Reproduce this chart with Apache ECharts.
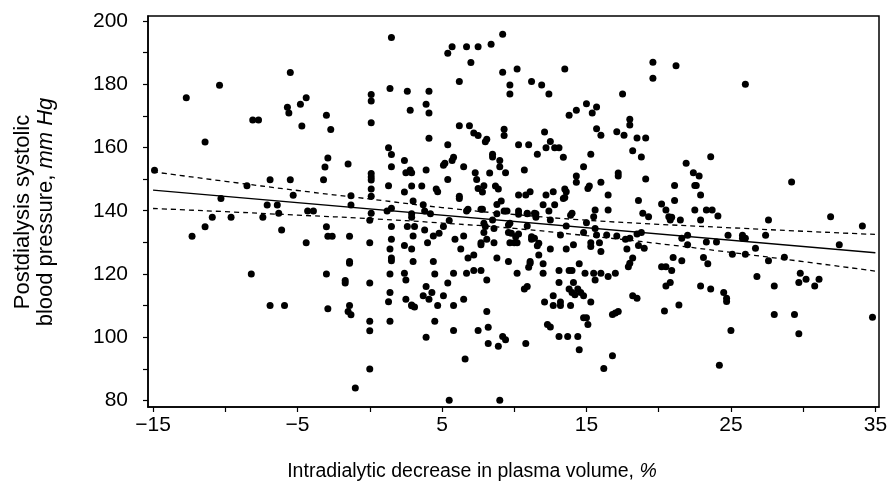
<!DOCTYPE html>
<html><head><meta charset="utf-8">
<script src="https://cdn.jsdelivr.net/npm/echarts@6/dist/echarts.min.js"></script>
<style>html,body{margin:0;padding:0;background:#fff}#c{width:891px;height:502px}</style>
</head><body><div id="c"></div>
<script>
// Intradialytic decrease in plasma volume (%) vs postdialysis systolic BP (mm Hg)
const pvDecrease = [
-12.7,-10.4,-5.5,-5.7,-5.6,-4.8,-4.4,-3.0,0.1,0.1,1.4,1.5,
2.6,4.1,2.8,3.9,4.1,5.4,5.7,6.7,7.5,8.4,9.2,7.0,6.2,9.2,10.2,9.7,9.7,11.2,11.9,12.4,13.5,17.5,15.0,14.3,15.7,15.4,13.8,
19.6,19.6,21.2,26.0,
-14.9,-11.4,-8.1,-7.7,-4.7,-2.7,0.1,1.3,1.5,1.5,1.3,-2.9,-3.1,-3.2,-1.5,0.1,0.1,0.1,0.1,0.1,0.1,-1.3,-1.3,-6.9,-5.5,-8.5,-5.3,-10.3,-7.1,-6.4,-6.3,-4.3,-3.9,1.2,1.5,
-12.3,-11.4,-10.9,-9.6,-7.4,-6.1,-4.4,-3.0,-2.9,-2.6,-1.4,0.0,0.0,1.5,1.5,1.4,1.5,1.5,1.4,1.4,1.3,-1.4,-1.4,-1.7,-1.7,0.0,-3.0,-8.2,-6.9,-5.9,-2.9,-1.4,-1.5,
-1.3,0.0,1.4,0.0,0.0,-1.0,
18.0,18.0,18.5,19.1,6.2,6.9,7.2,7.5,8.0,8.1,4.1,9.3,9.3,5.4,10.3,11.0,12.1,12.5,12.2,12.8,13.1,11.6,13.4,15.7,16.0,17.1,17.6,18.2,15.3,14.8,14.3,14.3,16.0,17.2,17.2,15.2,15.1,16.5,18.6,
2.4,2.5,2.8,2.9,3.9,2.9,3.6,2.4,3.0,3.7,3.8,2.9,5.1,5.2,5.7,5.8,6.5,5.4,4.6,4.7,6.2,6.2,7.3,7.4,8.3,8.5,8.5,9.0,9.0,9.4,7.5,7.8,7.9,8.7,8.9,10.7,10.3,10.8,11.1,12.2,12.7,12.0,12.8,13.5,13.6,13.4,13.5,9.1,8.8,6.8,6.7,7.7,7.8,9.5,9.3,10.3,10.9,11.4,12.4,14.0,15.6,16.5,
18.8,23.6,21.9,22.4,22.8,19.1,21.1,22.5,22.6,22.9,29.2,20.2,20.5,21.1,22.5,23.3,23.7,18.9,24.1,31.9,
4.2,8.8,10.3,10.9,11.5,11.5,12.5,13.9,15.5,2.6,3.1,2.9,3.8,5.1,5.5,4.4,4.8,7.9,8.0,8.5,8.6,7.9,9.6,9.7,9.6,9.8,10.1,10.3,10.9,11.2,11.4,13.2,13.6,14.8,15.0,15.6,15.7,16.4,17.1,17.7,18.0,18.5,
3.0,5.9,6.5,4.0,2.4,2.9,6.3,7.7,7.7,8.1,8.6,9.7,10.0,10.2,11.2,11.7,11.6,12.5,13.6,14.1,15.3,15.3,15.9,16.0,17.8,18.6,7.2,6.8,11.7,
3.0,4.4,8.8,9.6,11.1,11.1,11.0,12.0,14.5,18.2,18.0,17.9,2.4,2.5,4.5,5.8,6.7,7.2,7.7,8.1,10.2,12.0,13.1,13.8,14.0,14.9,15.5,16.0,15.6,16.5,17.0,5.4,13.1,14.1,
3.9,4.3,3.7,4.1,5.1,2.5,2.9,3.1,2.9,4.7,5.8,6.5,8.1,10.7,10.9,12.7,12.1,12.7,13.2,13.2,13.9,13.8,14.0,14.2,14.4,14.6,14.8,15.3,18.2,18.5,17.2,17.0,
4.5,3.9,5.8,6.6,7.5,8.2,8.2,8.9,9.2,9.4,10.8,12.3,12.5,13.1,13.7,14.4,14.5,14.8,15.0,15.1,16.2,16.8,16.8,5.5,9.0,
19.3,20.7,20.9,20.8,21.5,22.9,27.6,34.1,18.8,19.0,21.6,22.0,22.0,23.3,24.0,24.8,25.8,26.0,25.8,27.4,26.7,25.1,26.0,27.6,28.7,32.5,21.0,21.6,23.1,23.4,20.2,20.5,20.9,20.5,20.8,22.9,23.6,24.5,24.7,24.7,26.8,28.0,29.8,29.7,30.2,30.8,31.1,20.4,21.4,
28.0,29.4,34.8,25.0,29.7,24.2
];
const sbp = [
175.7,179.7,183.7,172.7,170.9,173.7,175.7,170.2,176.8,174.7,178.7,194.8,
177.8,177.8,171.8,173.7,170.9,189.8,191.9,191.9,191.9,192.7,195.8,186.9,180.9,183.8,184.8,179.8,176.9,180.9,179.8,176.9,184.8,176.9,173.8,171.8,172.8,170.9,170.2,
187.0,181.9,185.9,180.0,
152.8,161.7,168.7,168.7,166.8,165.7,167.8,159.9,157.8,153.9,147.9,156.7,153.8,149.8,154.8,151.8,150.7,149.7,146.9,144.6,139.2,144.7,141.8,149.8,149.8,147.9,144.9,143.9,141.8,141.8,139.2,139.9,139.9,139.9,140.8,
131.9,134.9,137.9,137.9,137.9,133.9,129.9,134.9,131.9,131.9,131.9,137.0,129.9,135.0,131.0,127.9,125.0,124.2,120.0,114.1,111.2,123.9,123.4,117.9,117.1,117.1,120.0,120.0,110.0,110.0,109.0,110.0,108.1,
107.1,105.0,105.0,102.0,89.9,83.9,
168.9,167.1,163.0,163.0,166.9,166.9,164.6,163.8,161.8,162.6,162.9,165.8,163.8,160.9,160.9,160.9,164.9,161.9,159.9,159.9,159.9,157.9,156.9,165.9,163.9,165.0,163.9,159.0,157.9,153.9,151.0,149.0,149.0,151.9,151.0,147.8,147.0,145.0,143.2,
155.9,152.0,152.9,152.0,152.9,147.8,147.8,145.9,143.1,141.9,139.9,139.0,154.4,155.0,155.9,156.9,153.9,149.9,146.9,146.0,144.6,143.9,152.0,149.9,151.9,157.9,157.0,155.9,153.9,152.0,147.0,145.9,147.9,147.8,146.9,152.9,145.0,145.0,146.0,145.0,146.0,141.9,141.9,146.9,146.0,143.9,144.2,143.1,142.0,140.5,139.9,140.5,140.5,139.9,139.9,139.9,139.2,139.2,139.9,139.2,140.2,140.2,
157.0,157.1,155.0,152.0,151.0,150.0,148.0,148.0,148.0,145.0,149.1,142.1,140.2,143.2,140.2,140.2,140.2,139.2,138.3,138.1,
139.0,139.0,138.9,139.0,139.0,137.9,137.1,138.6,138.1,135.0,135.0,137.9,133.9,135.0,136.9,132.0,132.9,136.0,135.0,137.1,134.4,133.1,135.5,136.0,133.1,132.9,131.8,132.6,135.2,131.8,131.3,132.3,135.2,133.1,136.2,134.4,132.3,132.3,132.0,131.0,131.3,132.6,
132.0,131.0,132.0,129.9,129.0,127.9,127.9,129.2,129.9,131.0,129.9,129.9,129.9,129.9,131.0,129.7,128.9,127.9,127.9,129.2,129.9,128.7,129.9,127.1,127.9,129.0,126.0,125.0,126.0,
123.9,123.9,125.0,123.9,123.9,123.4,122.1,123.2,123.2,125.0,123.4,122.3,120.2,118.1,120.0,120.2,120.2,121.1,121.1,118.1,120.2,120.2,121.1,121.1,121.1,120.2,120.2,120.2,118.1,119.2,120.2,117.1,117.3,117.3,
116.0,114.1,113.1,112.0,113.1,112.0,109.9,109.5,110.2,110.0,110.0,112.0,108.1,115.2,116.0,113.1,111.1,110.0,111.1,110.0,110.0,115.2,114.1,113.4,115.2,114.1,113.1,111.1,113.1,112.3,108.1,107.6,
105.0,100.0,102.1,93.1,102.1,103.1,98.0,97.1,100.2,99.2,98.0,104.0,103.2,100.2,100.2,100.2,96.0,106.1,106.1,104.0,90.1,94.1,107.2,80.0,80.0,
138.1,138.1,137.9,137.1,137.1,137.1,137.1,135.2,133.1,128.1,131.3,132.2,129.2,130.1,130.1,132.2,132.2,131.3,131.3,132.2,128.1,126.2,126.2,124.2,125.3,129.2,125.2,124.2,125.2,123.2,122.3,122.3,121.1,116.2,117.3,116.2,115.2,114.1,112.3,111.3,119.2,116.2,120.2,117.3,118.3,116.2,118.3,108.3,110.2,
107.2,107.2,106.3,102.1,101.1,91.1
];
// Fitted regression line and its confidence band
const fitX = [-15, 35];
const fitY = [146.5, 126.7];
const bandX = [-15, -10, -5, 0, 5, 10, 15, 20, 25, 30, 35];
const bandUpper = [152.3, 149.3, 146.4, 143.7, 141.0, 138.8, 137.0, 135.7, 134.6, 133.5, 132.5];
const bandLower = [140.7, 139.7, 138.6, 137.5, 136.1, 134.4, 132.1, 129.6, 126.8, 123.9, 120.9];
// Axis ticks
const xTicks = [-15, -10, -5, 0, 5, 10, 15, 20, 25, 30, 35];
const xTickLabels = [-15, -5, 5, 15, 25, 35];
const yTicks = [80, 90, 100, 110, 120, 130, 140, 150, 160, 170, 180, 190, 200];
const yTickLabels = [80, 100, 120, 140, 160, 180, 200];
const xTitle = 'Intradialytic decrease in plasma volume, ';
const yTitle1 = 'Postdialysis systolic';
const yTitle2 = 'blood pressure, ';

const FONT = '"Liberation Sans", Arial, sans-serif';
const zip = (a, b) => a.map((v, i) => [v, b[i]]);
const chart = echarts.init(document.getElementById('c'), null, {renderer: 'canvas'});
chart.setOption({
  animation: false,
  backgroundColor: '#fff',
  grid: {left: 148, top: 16, right: 12, bottom: 95, show: true, borderColor: '#000', borderWidth: 1.5, backgroundColor: 'transparent'},
  xAxis: {
    type: 'value', min: -15.35, max: 35.25,
    axisLine: {show: true, onZero: false, lineStyle: {color: '#000', width: 1.5}},
    axisTick: {show: true, customValues: xTicks, length: 5, inside: false, lineStyle: {color: '#000', width: 1.2}},
    axisLabel: {customValues: xTickLabels, formatter: v => String(v).replace('-', '\u2212'), color: '#000', fontSize: 21, fontFamily: FONT, margin: 8},
    splitLine: {show: false}
  },
  yAxis: {
    type: 'value', min: 77.9, max: 201.6,
    axisLine: {show: true, onZero: false, lineStyle: {color: '#000', width: 1.5}},
    axisTick: {show: true, customValues: yTicks, length: 5, inside: false, lineStyle: {color: '#000', width: 1.2}},
    axisLabel: {customValues: yTickLabels, color: '#000', fontSize: 21, fontFamily: FONT, margin: 20},
    splitLine: {show: false}
  },
  graphic: [
    {type: 'text', x: 472, y: 472, style: {
      text: '{n|' + xTitle + '}{i|%}', align: 'center', verticalAlign: 'middle',
      rich: {n: {fontSize: 19.5, fontFamily: FONT, fill: '#000'}, i: {fontSize: 19.5, fontFamily: FONT, fontStyle: 'italic', fill: '#000'}}
    }},
    {type: 'text', x: 34, y: 212, rotation: Math.PI / 2, style: {
      text: '{n|' + yTitle1 + '}\n{n|' + yTitle2 + '}{i|mm Hg}', align: 'center', verticalAlign: 'middle',
      rich: {n: {fontSize: 22, fontFamily: FONT, fill: '#000', lineHeight: 23, align: 'center'}, i: {fontSize: 22, fontFamily: FONT, fontStyle: 'italic', fill: '#000', lineHeight: 23}}
    }}
  ],
  series: [
    {type: 'line', data: zip(fitX, fitY), symbol: 'none', lineStyle: {color: '#000', width: 1.4}, z: 3, silent: true},
    {type: 'line', data: zip(bandX, bandUpper), symbol: 'none', smooth: true, lineStyle: {color: '#000', width: 1.3, type: [5, 4]}, z: 3, silent: true},
    {type: 'line', data: zip(bandX, bandLower), symbol: 'none', smooth: true, lineStyle: {color: '#000', width: 1.3, type: [5, 4]}, z: 3, silent: true},
    {type: 'scatter', data: zip(pvDecrease, sbp), symbol: 'circle', symbolSize: 7, itemStyle: {color: '#000', opacity: 1}, z: 4, silent: true}
  ]
});
</script></body></html>
